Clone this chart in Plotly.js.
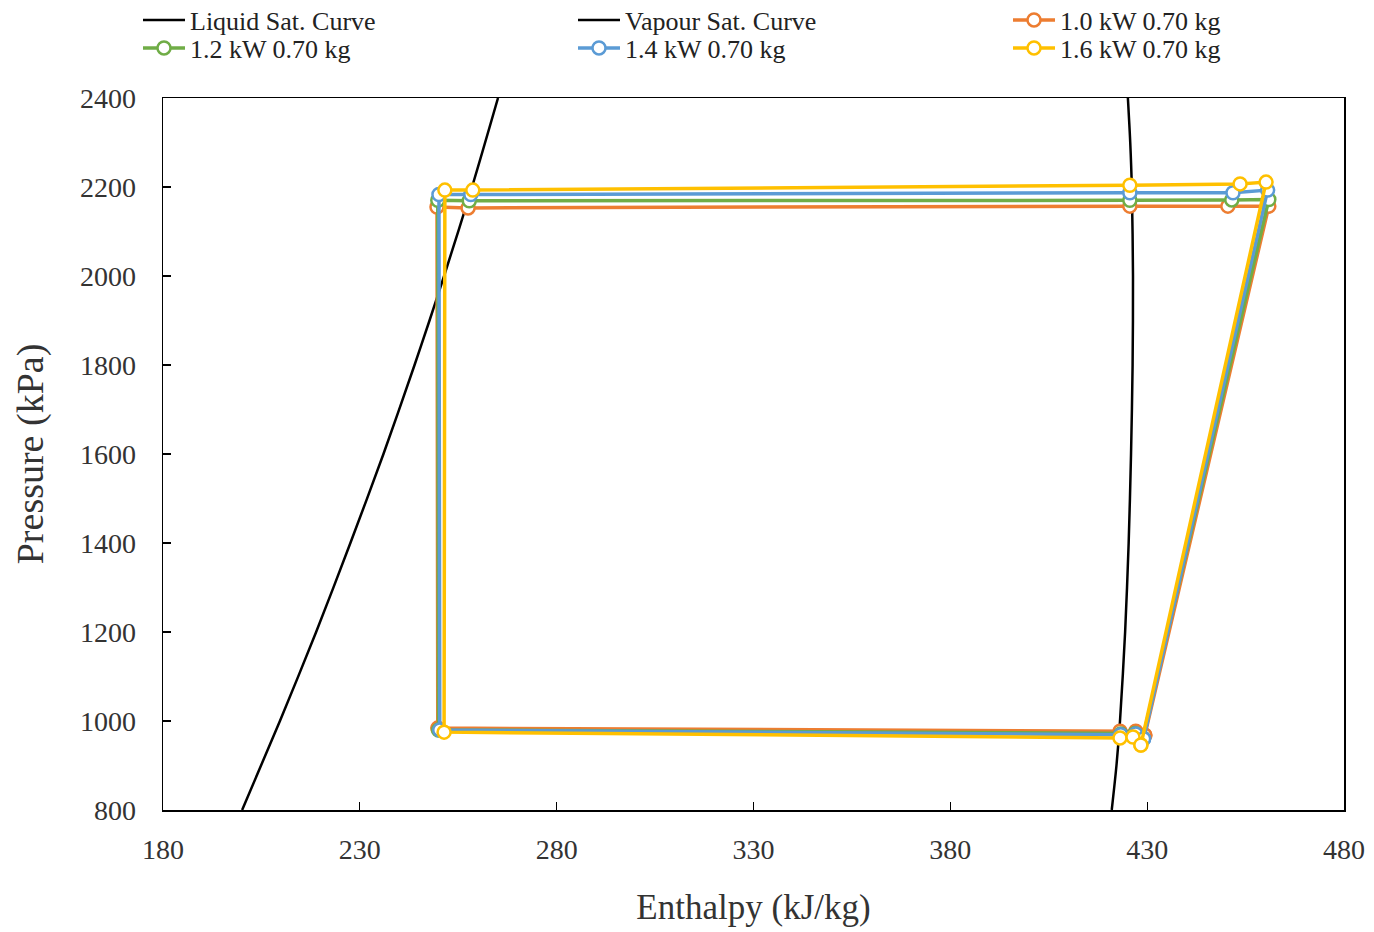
<!DOCTYPE html>
<html>
<head>
<meta charset="utf-8">
<script src="https://cdn.plot.ly/plotly-3.0.1.min.js"></script>
<style>
  html, body { margin: 0; padding: 0; background: #fff; }
  #chart { width: 1374px; height: 932px; }
</style>
</head>
<body>
<div id="chart"></div>
<script>
// Saturation dome (pressure in kPa, enthalpy in kJ/kg)
const liquidP = [800, 1000, 1200, 1400, 1600, 1800, 1900, 2000, 2200, 2400];
const liquidH = [200.1, 209.7, 218.9, 227.6, 236.0, 243.9, 247.7, 251.4, 258.5, 265.1];

const vapourP = [800, 900, 1000, 1200, 1400, 1600, 1800, 2000, 2200, 2300, 2400];
const vapourH = [421.0, 422.2, 423.1, 424.4, 425.3, 425.9, 426.3, 426.4, 426.1, 425.7, 425.1];

// Cycle state points: compressor inlet -> discharge -> condenser -> expansion -> evaporator -> inlet
const cycle10H = [429.4, 460.9, 450.5, 425.6, 257.5, 249.6, 249.8, 423.1, 427.1, 429.4];
const cycle10P = [968, 2157, 2157, 2157, 2153, 2155, 984, 977, 977, 968];

const cycle12H = [428.9, 460.9, 451.5, 425.6, 257.8, 249.8, 250.0, 423.3, 426.9, 428.9];
const cycle12P = [962, 2172, 2171, 2170, 2169, 2170, 980, 971, 972, 962];

const cycle14H = [429.1, 460.6, 451.8, 425.6, 258.2, 250.1, 250.3, 423.3, 427.1, 429.1];
const cycle14P = [960, 2193, 2187, 2187, 2183, 2183, 980, 969, 971, 960];

const cycle16H = [428.4, 460.2, 453.6, 425.6, 258.7, 251.6, 251.4, 423.1, 426.4, 428.4];
const cycle16P = [946, 2211, 2207, 2204, 2193, 2193, 975, 962, 964, 946];

const seriesNames = ['Liquid Sat. Curve', 'Vapour Sat. Curve',
  '1.0 kW 0.70 kg', '1.2 kW 0.70 kg', '1.4 kW 0.70 kg', '1.6 kW 0.70 kg'];

const xTicks = [180, 230, 280, 330, 380, 430, 480];
const yTicks = [800, 1000, 1200, 1400, 1600, 1800, 2000, 2200, 2400];

const serif = 'Liberation Serif, Times New Roman, serif';

function dome(h, p, name, legend) {
  return {
    x: h, y: p, name: name, type: 'scatter', mode: 'lines',
    line: { color: '#000', width: 2.5, shape: 'spline', smoothing: 0.8 },
    legend: legend, hoverinfo: 'skip'
  };
}

function cycle(h, p, name, color, legend) {
  return {
    x: h, y: p, name: name, type: 'scatter', mode: 'lines+markers',
    line: { color: color, width: 3.5 },
    marker: { symbol: 'circle', size: 13, color: '#fff', line: { color: color, width: 2.5 } },
    legend: legend, hoverinfo: 'skip'
  };
}

const traces = [
  dome(liquidH, liquidP, seriesNames[0], 'legend'),
  dome(vapourH, vapourP, seriesNames[1], 'legend2'),
  cycle(cycle10H, cycle10P, seriesNames[2], '#ED7D31', 'legend3'),
  cycle(cycle12H, cycle12P, seriesNames[3], '#70AD47', 'legend4'),
  cycle(cycle14H, cycle14P, seriesNames[4], '#5B9BD5', 'legend5'),
  cycle(cycle16H, cycle16P, seriesNames[5], '#FFC000', 'legend6')
];

// One legend box per entry, laid out as a 3 x 2 grid above the plot
const colX = [190, 625, 1060];
const rowY = [20, 48];
function legendAt(col, row) {
  return {
    orientation: 'h',
    xref: 'container', yref: 'container',
    x: (colX[col] - 52) / 1374, xanchor: 'left',
    y: 1 - rowY[row] / 932, yanchor: 'middle',
    itemwidth: 42,
    font: { family: serif, size: 26, color: '#222' },
    bgcolor: 'rgba(0,0,0,0)', borderwidth: 0
  };
}

const layout = {
  width: 1374, height: 932,
  paper_bgcolor: '#fff', plot_bgcolor: '#fff',
  margin: { l: 163, r: 30, t: 98, b: 122 },
  showlegend: true,
  legend: legendAt(0, 0),
  legend2: legendAt(1, 0),
  legend3: legendAt(2, 0),
  legend4: legendAt(0, 1),
  legend5: legendAt(1, 1),
  legend6: legendAt(2, 1),
  xaxis: {
    range: [180, 480], tickvals: xTicks, ticktext: xTicks.map(String),
    ticks: 'inside', ticklen: 8, tickwidth: 1.2, tickcolor: '#000',
    showline: true, linecolor: '#000', linewidth: 1.5, mirror: true,
    showgrid: false, zeroline: false,
    ticklabelstandoff: 14,
    tickfont: { family: serif, size: 28, color: '#333' },
    title: { text: 'Enthalpy (kJ/kg)', font: { family: serif, size: 35, color: '#333' }, standoff: 30 }
  },
  yaxis: {
    range: [800, 2400], tickvals: yTicks, ticktext: yTicks.map(String),
    ticks: 'inside', ticklen: 8, tickwidth: 1.2, tickcolor: '#000',
    showline: true, linecolor: '#000', linewidth: 1.5, mirror: true,
    showgrid: false, zeroline: false,
    ticklabelstandoff: 20,
    tickfont: { family: serif, size: 28, color: '#333' },
    title: { text: 'Pressure (kPa)', font: { family: serif, size: 38, color: '#333' }, standoff: 24 }
  }
};

Plotly.newPlot('chart', traces, layout, { staticPlot: true, displayModeBar: false });
</script>
</body>
</html>
